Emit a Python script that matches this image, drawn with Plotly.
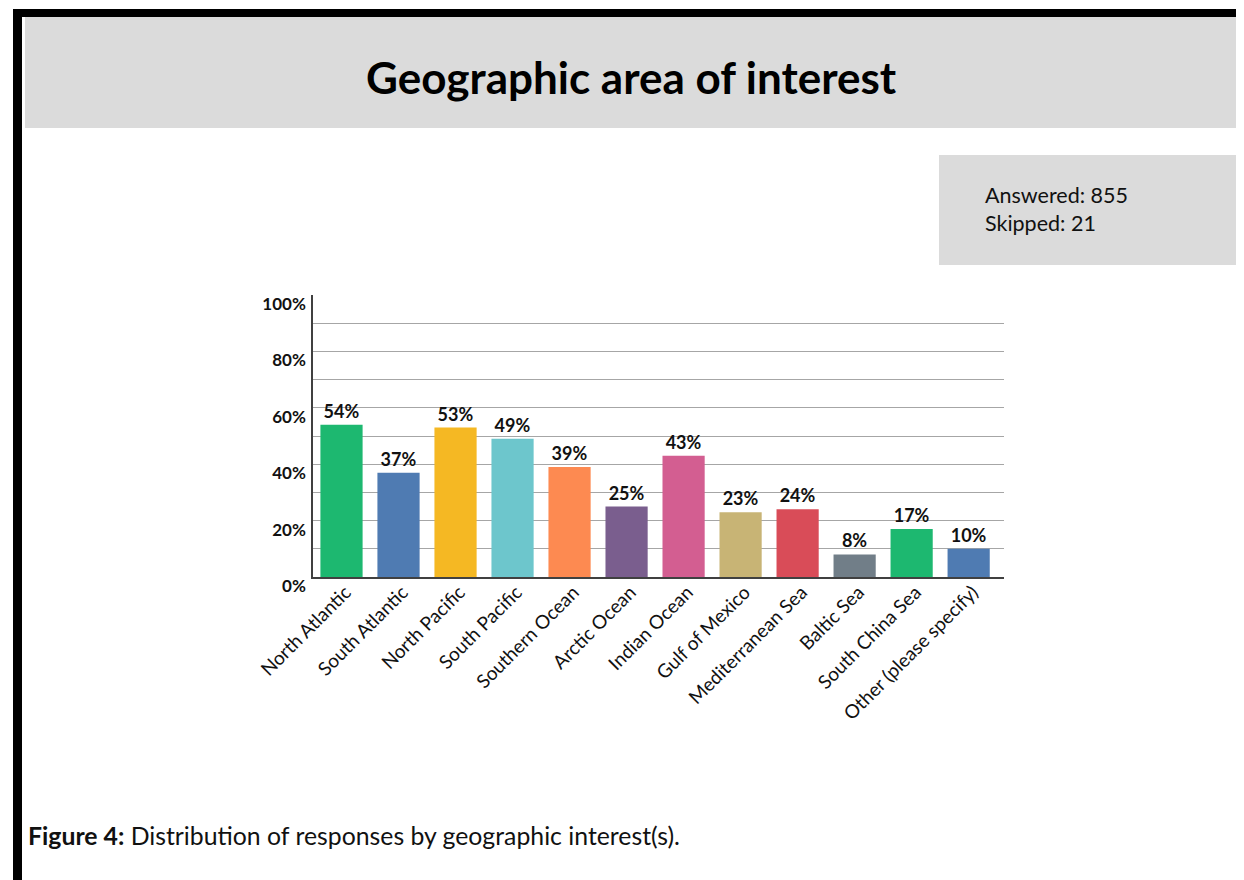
import plotly.graph_objects as go

categories = ["North Atlantic", "South Atlantic", "North Pacific", "South Pacific",
              "Southern Ocean", "Arctic Ocean", "Indian Ocean", "Gulf of Mexico",
              "Mediterranean Sea", "Baltic Sea", "South China Sea", "Other (please specify)"]
values = [54, 37, 53, 49, 39, 25, 43, 23, 24, 8, 17, 10]
colors = ["#1DB870", "#4F7BB2", "#F5B823", "#6DC6CC", "#FD8A51", "#7A5E8E",
          "#D35E91", "#C8B475", "#D94C58", "#717E88", "#1DB870", "#4F7BB2"]
ytick_vals = [0, 20, 40, 60, 80, 100]
ytick_text = ["0%", "20%", "40%", "60%", "80%", "100%"]
minor_grid = [10, 20, 30, 40, 50, 60, 70, 80, 90]

title_text = "Geographic area of interest"
stats_text = "Answered: 855<br>Skipped: 21"
caption_text = "<b>Figure 4:</b> Distribution of responses by geographic interest(s)."

OFF = 8  # default page body margin
W, H = 1244 - OFF, 880 - OFF
L, R, T, B = 313, 1004, 295, 577  # plot area in screen pixels
FONT = "Lato"

def px(x):
    return (x - L) / (R - L)

def py(y):
    return (B - y) / (B - T)

fig = go.Figure()
fig.add_trace(go.Bar(
    x=list(range(len(categories))),
    y=values,
    marker=dict(color=colors, line=dict(width=0)),
    text=[f"{v}%" for v in values],
    textposition="outside",
    cliponaxis=False,
    textfont=dict(family=FONT, size=18, color="#111111", weight="bold"),
    width=0.74,
    hoverinfo="skip",
))

shapes = [
    dict(type="rect", xref="paper", yref="paper", x0=px(13), x1=px(1250), y0=py(9), y1=py(17),
         fillcolor="black", line=dict(width=0), layer="above"),
    dict(type="rect", xref="paper", yref="paper", x0=px(13), x1=px(22), y0=py(9), y1=py(890),
         fillcolor="black", line=dict(width=0), layer="above"),
    dict(type="rect", xref="paper", yref="paper", x0=px(25), x1=px(1240), y0=py(17), y1=py(128),
         fillcolor="#DBDBDB", line=dict(width=0), layer="below"),
    dict(type="rect", xref="paper", yref="paper", x0=px(939), x1=px(1240), y0=py(155), y1=py(265),
         fillcolor="#DBDBDB", line=dict(width=0), layer="below"),
]

annotations = [
    dict(text=f"<b>{title_text}</b>", xref="paper", yref="paper", x=px(631), y=py(77),
         xanchor="center", yanchor="middle", showarrow=False,
         font=dict(family=FONT, size=44, color="black")),
    dict(text=stats_text, xref="paper", yref="paper", x=px(983), y=py(209),
         xanchor="left", yanchor="middle", align="left", showarrow=False,
         font=dict(family=FONT, size=21.5, color="#111111")),
    dict(text=caption_text, xref="paper", yref="paper", x=px(26), y=py(835),
         xanchor="left", yanchor="middle", align="left", showarrow=False,
         font=dict(family=FONT, size=24.8, color="#111111")),
]

fig.update_layout(
    width=W, height=H,
    margin=dict(l=L - OFF, r=W - (R - OFF), t=T - OFF, b=H - (B - OFF), pad=0),
    paper_bgcolor="white", plot_bgcolor="white",
    showlegend=False,
    bargap=0.26,
    shapes=shapes,
    annotations=annotations,
    font=dict(family=FONT, color="#111111"),
)
fig.update_xaxes(
    tickmode="array", tickvals=list(range(len(categories))), ticktext=categories,
    tickangle=-45, tickfont=dict(family=FONT, size=19, color="#111111"),
    ticklabelstandoff=-5, ticklabelshift=4,
    range=[-0.5, 11.62], showline=True, linecolor="#404040", linewidth=1.5,
    ticks="", showgrid=False, zeroline=False,
)
fig.update_yaxes(
    range=[0, 100], tickmode="array", tickvals=ytick_vals, ticktext=ytick_text,
    tickfont=dict(family=FONT, size=17, color="#111111", weight="bold"),
    ticklabelshift=9, ticklabelstandoff=2,
    showline=True, linecolor="#404040", linewidth=1.5,
    showgrid=False, zeroline=False, ticks="",
    minor=dict(tickmode="array", tickvals=minor_grid, showgrid=True,
               gridcolor="#A6A6A6", gridwidth=1, ticks=""),
)

fig.write_html("out.html")
